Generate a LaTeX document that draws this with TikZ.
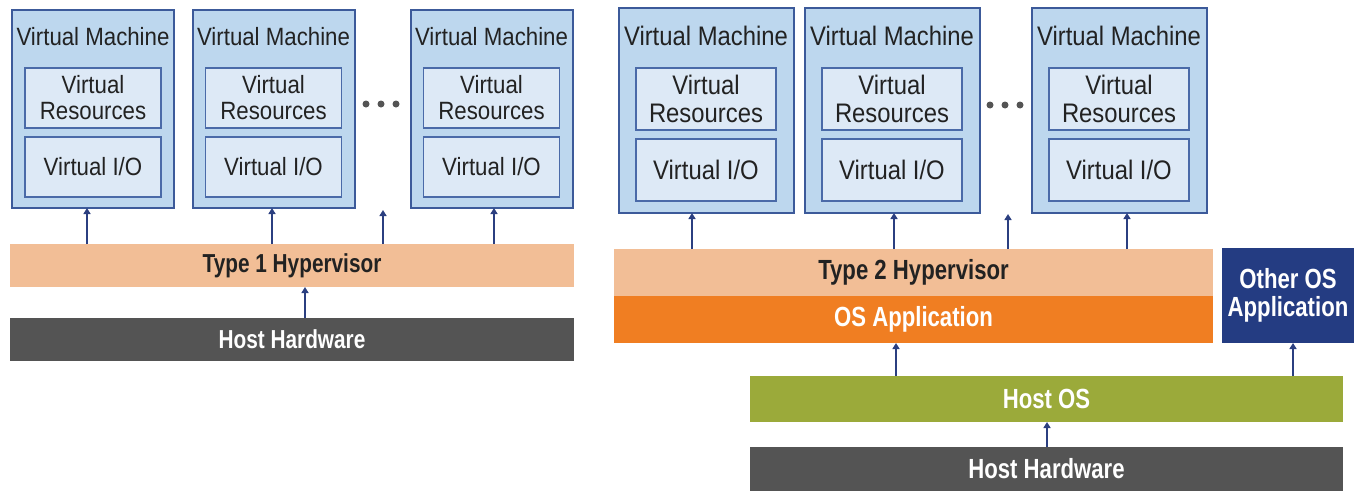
\documentclass[tikz,border=0pt]{standalone}
\usepackage{fontspec}
\setmainfont{Liberation Sans}[FakeStretch=0.89, BoldFeatures={FakeStretch=0.8}]
\usetikzlibrary{arrows.meta}
\definecolor{vmfill}{HTML}{BDD7EE}
\definecolor{vmborder}{HTML}{3C5A9A}
\definecolor{infill}{HTML}{DDE9F6}
\definecolor{inborder}{HTML}{4A6AA8}
\definecolor{hypfill}{HTML}{F2BE96}
\definecolor{osorange}{HTML}{F07E22}
\definecolor{navy}{HTML}{243C82}
\definecolor{olive}{HTML}{9BAA3A}
\definecolor{hwgray}{HTML}{545454}
\definecolor{arrcol}{HTML}{2B3F80}
\definecolor{txt}{HTML}{222222}
\newcommand{\lfont}{\fontsize{25}{26}\selectfont}
\newcommand{\rfont}{\fontsize{26.8}{27.5}\selectfont}
\newcommand{\lbfont}{\fontsize{26}{26}\selectfont\bfseries}
\newcommand{\rbfont}{\fontsize{27.7}{28}\selectfont\bfseries}
\tikzset{
  box/.style={rectangle, inner sep=0pt, outer sep=0pt},
  vmbox/.style={box, draw=vmborder, fill=vmfill, line width=2pt},
  inbox/.style={box, draw=inborder, fill=infill, line width=1.3pt, text=txt, align=center},
  title/.style={inner sep=0pt, text=txt},
  bar/.style={box, align=center},
  arr/.style={draw=arrcol, line width=1.8pt, -{Triangle[length=6pt,width=7pt]}},
  dot/.style={circle, fill=hwgray, inner sep=0pt, minimum size=7pt},
}
\begin{document}
\begin{tikzpicture}[x=1pt, y=-1pt]
\useasboundingbox (0,0) rectangle (1359,493);
% ---------- Left: Type 1 ----------
\foreach \n/\cx in {1/93, 2/273.5, 3/491.5}{
  \node[vmbox, minimum width=162pt, minimum height=198pt] (vm\n) at (\cx,109) {};
  \node[title, font=\lfont] (vmt\n) at (\cx,37) {Virtual Machine};
  \node[inbox, minimum width=136pt, minimum height=60pt, font=\lfont] (vr\n) at (\cx,98) {Virtual\\Resources};
  \node[inbox, minimum width=136pt, minimum height=60pt, font=\lfont] (vio\n) at (\cx,167) {Virtual I/O};
}
\node[dot] (d1) at (366,104) {};
\node[dot] (d2) at (381,104) {};
\node[dot] (d3) at (396,104) {};
\node[bar, fill=hypfill, text=txt, minimum width=564pt, minimum height=43pt, font=\lbfont] (hyp1) at (292,265.5) {Type 1 Hypervisor};
\node[bar, fill=hwgray, text=white, minimum width=564pt, minimum height=43pt, font=\lbfont] (hw1) at (292,339.5) {Host Hardware};
\coordinate (gap1) at (383,210);
\draw[arr] (hyp1.north -| 87,0) -- (vm1.south -| 87,0);
\draw[arr] (hyp1.north -| 272,0) -- (vm2.south -| 272,0);
\draw[arr] (hyp1.north -| gap1) -- (gap1);
\draw[arr] (hyp1.north -| 494,0) -- (vm3.south -| 494,0);
\draw[arr] (hw1.north -| 305,0) -- (hyp1.south -| 305,0);
% ---------- Right: Type 2 ----------
\foreach \n/\cx in {4/706, 5/892, 6/1119}{
  \node[vmbox, minimum width=175pt, minimum height=205pt] (vm\n) at (\cx,110.5) {};
  \node[title, font=\rfont] (vmt\n) at (\cx,36) {Virtual Machine};
  \node[inbox, minimum width=140pt, minimum height=62pt, font=\rfont] (vr\n) at (\cx,99) {Virtual\\Resources};
  \node[inbox, minimum width=140pt, minimum height=62pt, font=\rfont] (vio\n) at (\cx,170) {Virtual I/O};
}
\node[dot] (d4) at (990,105) {};
\node[dot] (d5) at (1005,105) {};
\node[dot] (d6) at (1020,105) {};
\node[bar, fill=hypfill, text=txt, minimum width=599pt, minimum height=47pt, font=\rbfont] (hyp2) at (913.5,272.5) {Type 2 Hypervisor};
\node[bar, fill=osorange, text=white, minimum width=599pt, minimum height=47pt, font=\rbfont] (osapp) at (913.5,319.5) {OS Application};
\node[bar, fill=navy, text=white, minimum width=132pt, minimum height=95pt, font=\rbfont] (other) at (1288,295.5) {Other OS\\Application};
\node[bar, fill=olive, text=white, minimum width=593pt, minimum height=46pt, font=\rbfont] (hostos) at (1046.5,399) {Host OS};
\node[bar, fill=hwgray, text=white, minimum width=593pt, minimum height=44pt, font=\rbfont] (hw2) at (1046.5,469) {Host Hardware};
\coordinate (gap2) at (1008,214);
\draw[arr] (hyp2.north -| 692,0) -- (vm4.south -| 692,0);
\draw[arr] (hyp2.north -| 894,0) -- (vm5.south -| 894,0);
\draw[arr] (hyp2.north -| gap2) -- (gap2);
\draw[arr] (hyp2.north -| 1127,0) -- (vm6.south -| 1127,0);
\draw[arr] (hostos.north -| 896,0) -- (osapp.south -| 896,0);
\draw[arr] (hostos.north -| 1293,0) -- (other.south -| 1293,0);
\draw[arr] (hw2.north -| 1047,0) -- (hostos.south -| 1047,0);
\end{tikzpicture}
\end{document}
